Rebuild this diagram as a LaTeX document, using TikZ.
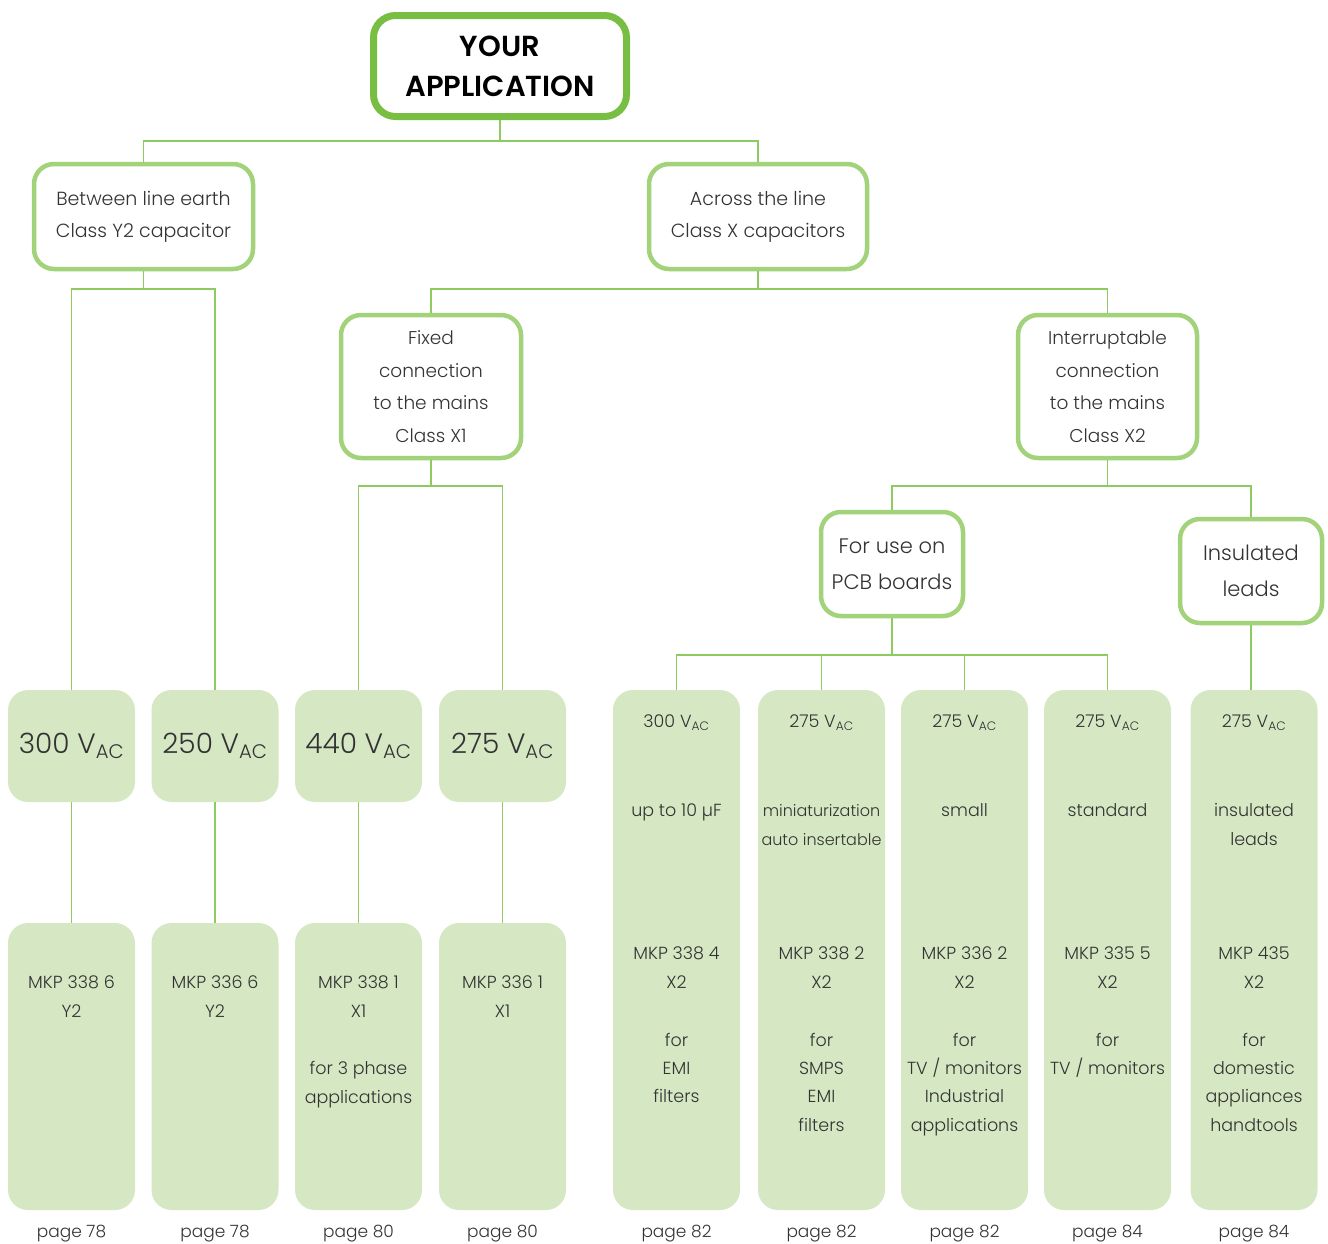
\documentclass[tikz,border=0pt]{standalone}
\usepackage{fontspec}
\setmainfont{Poppins Light}[BoldFont={Poppins SemiBold}]
\definecolor{topg}{HTML}{78BE43}
\definecolor{boxg}{HTML}{A2D37A}
\definecolor{lineg}{HTML}{8DCA5F}
\definecolor{fillg}{HTML}{D5E8C3}
\definecolor{txt}{HTML}{333333}
\newcommand\tline[4]{\node[bt] (#1) at (#2,#3) {#4};}
\newcommand\vac{V\textsubscript{AC}}
\begin{document}
\begin{tikzpicture}[x=1pt,y=-1pt,
  every node/.style={text=txt, inner sep=0pt},
  topbox/.style={draw=topg, line width=7pt, rounded corners=22pt, fill=white, minimum width=253pt, minimum height=101pt, font=\fontsize{29}{40}\selectfont\bfseries, align=center, text=black},
  catbox/.style={draw=boxg, line width=4.5pt, rounded corners=20pt, fill=white, align=center},
  voltbox/.style={fill=fillg, rounded corners=20pt, minimum width=127pt, minimum height=112pt, font=\fontsize{28}{32}\selectfont},
  lowbox/.style={fill=fillg, rounded corners=20pt, minimum width=127pt, minimum height=287pt},
  tallbox/.style={fill=fillg, rounded corners=20pt, minimum width=127pt, minimum height=520pt},
  bt/.style={anchor=mid, yshift=-4pt, font=\fontsize{17.5}{20}\selectfont},
  smt/.style={font=\fontsize{16}{20}\selectfont},
  pg/.style={anchor=mid, yshift=-4pt, font=\fontsize{17}{20}\selectfont},
  conn/.style={draw=lineg, line width=1.5pt}]
\useasboundingbox (0,0) rectangle (1328,1243);
% top levels
\node[topbox] (top) at (500,66) {YOUR\\APPLICATION};
\node[catbox, minimum width=219pt, minimum height=105pt, font=\fontsize{19}{32}\selectfont] (y2) at (143.5,216.5) {Between line earth\\Class Y2 capacitor};
\node[catbox, minimum width=218pt, minimum height=105pt, font=\fontsize{19}{32}\selectfont] (xc) at (758,216.5) {Across the line\\Class X capacitors};
\node[catbox, minimum width=180pt, minimum height=143pt, font=\fontsize{18.5}{32.5}\selectfont] (fx) at (431,386.5) {Fixed\\connection\\to the mains\\Class X1};
\node[catbox, minimum width=179pt, minimum height=143pt, font=\fontsize{18.5}{32.5}\selectfont] (ir) at (1107.5,386.5) {Interruptable\\connection\\to the mains\\Class X2};
\node[catbox, minimum width=142pt, minimum height=104pt, font=\fontsize{21}{36}\selectfont] (pcb) at (892,564) {For use on\\PCB boards};
\node[catbox, minimum width=142pt, minimum height=104pt, font=\fontsize{21}{36}\selectfont] (ins) at (1251,571) {Insulated\\leads};
% voltage boxes
\node[voltbox] (v1) at (71.5,746) {300 \vac};
\node[voltbox] (v2) at (215,746) {250 \vac};
\node[voltbox] (v3) at (358.5,746) {440 \vac};
\node[voltbox] (v4) at (502.5,746) {275 \vac};
% lower boxes
\node[lowbox] (m1) at (71.5,1066.5) {};
\node[lowbox] (m2) at (215,1066.5) {};
\node[lowbox] (m3) at (358.5,1066.5) {};
\node[lowbox] (m4) at (502.5,1066.5) {};
% tall boxes
\node[tallbox] (t1) at (676.5,950) {};
\node[tallbox] (t2) at (821.5,950) {};
\node[tallbox] (t3) at (964.5,950) {};
\node[tallbox] (t4) at (1107.5,950) {};
\node[tallbox] (t5) at (1254,950) {};
% connectors
\coordinate (b1) at (500,141);
\draw[conn] (top.south) -- (b1);
\draw[conn] (b1) -| (y2.north);
\draw[conn] (b1) -| (xc.north);
\coordinate (b2) at (143.5,289);
\draw[conn] (y2.south) -- (b2);
\draw[conn] (b2) -| (v1.north);
\draw[conn] (b2) -| (v2.north);
\coordinate (b3) at (758,289);
\draw[conn] (xc.south) -- (b3);
\draw[conn] (b3) -| (fx.north);
\draw[conn] (b3) -| (ir.north);
\coordinate (b4) at (431,486);
\draw[conn] (fx.south) -- (b4);
\draw[conn] (b4) -| (v3.north);
\draw[conn] (b4) -| (v4.north);
\coordinate (b5) at (1107.5,486);
\draw[conn] (ir.south) -- (b5);
\draw[conn] (b5) -| (pcb.north);
\draw[conn] (b5) -| (ins.north);
\coordinate (b6) at (892,655);
\draw[conn] (pcb.south) -- (b6);
\draw[conn] (b6) -| (t1.north);
\draw[conn] (b6) -| (t2.north);
\draw[conn] (b6) -| (t3.north);
\draw[conn] (b6) -| (t4.north);
\draw[conn] (ins.south) -- (ins.south |- t5.north);
\draw[conn] (v1.south) -- (m1.north);
\draw[conn] (v2.south) -- (m2.north);
\draw[conn] (v3.south) -- (m3.north);
\draw[conn] (v4.south) -- (m4.north);
% lower box texts
\tline{m1a}{71.5}{982}{MKP 338 6}
\tline{m1b}{71.5}{1011}{Y2}
\tline{m2a}{215}{982}{MKP 336 6}
\tline{m2b}{215}{1011}{Y2}
\tline{m3a}{358.5}{982}{MKP 338 1}
\tline{m3b}{358.5}{1011}{X1}
\tline{m3c}{358.5}{1068}{for 3 phase}
\tline{m3d}{358.5}{1097}{applications}
\tline{m4a}{502.5}{982}{MKP 336 1}
\tline{m4b}{502.5}{1011}{X1}
% tall box texts
\tline{t1a}{676.5}{721}{300 \vac}
\tline{t1b}{676.5}{810}{up to 10 µF}
\tline{t1c}{676.5}{953}{MKP 338 4}
\tline{t1d}{676.5}{982}{X2}
\tline{t1e}{676.5}{1040}{for}
\tline{t1f}{676.5}{1068}{EMI}
\tline{t1g}{676.5}{1096}{filters}
\tline{t2a}{821.5}{721}{275 \vac}
\node[bt, smt] (t2b) at (821.5,810) {miniaturization};
\node[bt, smt] (t2c) at (821.5,839) {auto insertable};
\tline{t2d}{821.5}{953}{MKP 338 2}
\tline{t2e}{821.5}{982}{X2}
\tline{t2f}{821.5}{1040}{for}
\tline{t2g}{821.5}{1068}{SMPS}
\tline{t2h}{821.5}{1096}{EMI}
\tline{t2i}{821.5}{1125}{filters}
\tline{t3a}{964.5}{721}{275 \vac}
\tline{t3b}{964.5}{810}{small}
\tline{t3c}{964.5}{953}{MKP 336 2}
\tline{t3d}{964.5}{982}{X2}
\tline{t3e}{964.5}{1040}{for}
\tline{t3f}{964.5}{1068}{TV / monitors}
\tline{t3g}{964.5}{1096}{Industrial}
\tline{t3h}{964.5}{1125}{applications}
\tline{t4a}{1107.5}{721}{275 \vac}
\tline{t4b}{1107.5}{810}{standard}
\tline{t4c}{1107.5}{953}{MKP 335 5}
\tline{t4d}{1107.5}{982}{X2}
\tline{t4e}{1107.5}{1040}{for}
\tline{t4f}{1107.5}{1068}{TV / monitors}
\tline{t5a}{1254}{721}{275 \vac}
\tline{t5b}{1254}{810}{insulated}
\tline{t5c}{1254}{839}{leads}
\tline{t5d}{1254}{953}{MKP 435}
\tline{t5e}{1254}{982}{X2}
\tline{t5f}{1254}{1040}{for}
\tline{t5g}{1254}{1068}{domestic}
\tline{t5h}{1254}{1096}{appliances}
\tline{t5i}{1254}{1125}{handtools}
% page labels
\node[pg] (p1) at (71.5,1231) {page 78};
\node[pg] (p2) at (215,1231) {page 78};
\node[pg] (p3) at (358.5,1231) {page 80};
\node[pg] (p4) at (502.5,1231) {page 80};
\node[pg] (p5) at (676.5,1231) {page 82};
\node[pg] (p6) at (821.5,1231) {page 82};
\node[pg] (p7) at (964.5,1231) {page 82};
\node[pg] (p8) at (1107.5,1231) {page 84};
\node[pg] (p9) at (1254,1231) {page 84};
\end{tikzpicture}
\end{document}
